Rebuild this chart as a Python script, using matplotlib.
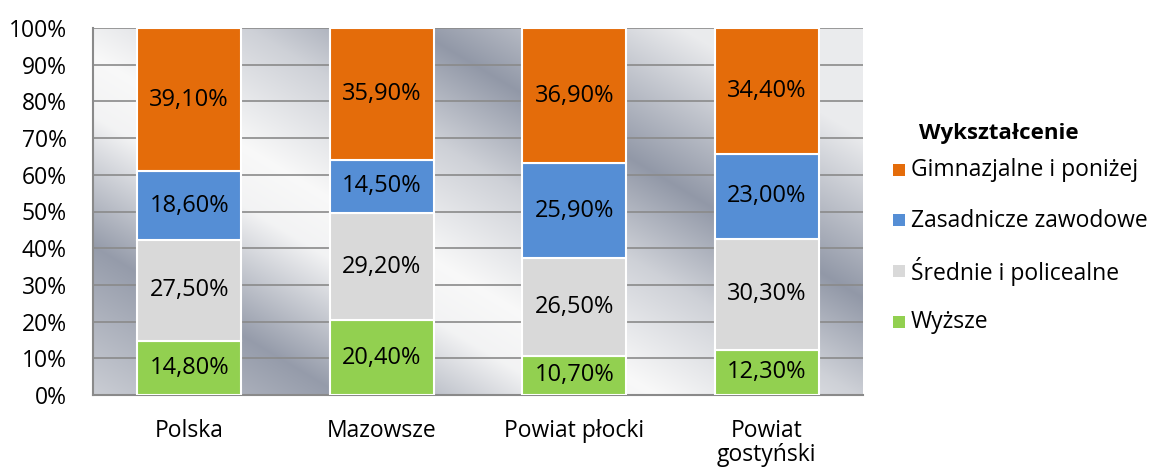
import numpy as np
import matplotlib
matplotlib.use("Agg")
import matplotlib.pyplot as plt
from matplotlib.patches import Rectangle

plt.rcParams['font.family'] = ['Open Sans', 'DejaVu Sans']

categories = ["Polska", "Mazowsze", "Powiat płocki", "Powiat\ngostyński"]
series_names = ["Wyższe", "Średnie i policealne", "Zasadnicze zawodowe", "Gimnazjalne i poniżej"]
wyzsze = [14.8, 20.4, 10.7, 12.3]
srednie = [27.5, 29.2, 26.5, 30.3]
zasadnicze = [18.6, 14.5, 25.9, 23.0]
gimnazjalne = [39.1, 35.9, 36.9, 34.4]
series_values = [wyzsze, srednie, zasadnicze, gimnazjalne]
colors = ["#92d050", "#d9d9d9", "#558ed5", "#e46c0a"]
legend_title = "Wykształcenie"
yticks = [0, 10, 20, 30, 40, 50, 60, 70, 80, 90, 100]

W, H = 1155, 470
fig = plt.figure(figsize=(W / 100, H / 100), dpi=100)
L, R, T, B = 93, 863, 28, 395
ax = fig.add_axes([L / W, 1 - B / H, (R - L) / W, (B - T) / H])

# metallic background gradient
nx, ny = R - L, B - T
px = np.arange(nx)[None, :] + L
py = np.arange(ny)[:, None] + T
u = py - 0.6 * px
ku = [-500, -380, -220, -120, 0, 60, 190, 350]
kt = [0.88, 0.88, 0.15, 0.65, 1.0, 0.95, 0.18, 0.65]
t = np.interp(u, ku, kt)
dark = np.array([0.50, 0.53, 0.60])
light = np.array([0.975, 0.975, 0.975])
img = dark[None, None, :] + t[..., None] * (light - dark)[None, None, :]
ax.imshow(img, extent=(-0.5, 3.5, 0, 100), origin='upper', aspect='auto', zorder=0)

ax.set_xlim(-0.5, 3.5)
ax.set_ylim(0, 100)
for y in yticks[1:]:
    ax.axhline(y, color="#8a8a8a", lw=1.2, zorder=1)

x = np.arange(len(categories))
bottom = np.zeros(len(categories))
for vals, col in zip(series_values, colors):
    vals = np.array(vals)
    ax.bar(x, vals, 0.54, bottom=bottom, color=col, edgecolor="white", linewidth=1.5, zorder=3)
    for xi, b, v in zip(x, bottom, vals):
        ax.text(xi, b + v / 2, f"{v:.2f}".replace('.', ',') + "%", ha='center', va='center',
                fontsize=17, color="black", zorder=4)
    bottom = bottom + vals

ax.set_yticks(yticks)
ax.set_yticklabels([f"{v}%" for v in yticks], fontsize=16.5)
ax.set_xticks(x)
ax.set_xticklabels(categories, fontsize=16.5, linespacing=1.02)
ax.tick_params(axis='y', length=0, pad=19)
ax.tick_params(axis='x', length=0, pad=17)
for s in ["top", "right"]:
    ax.spines[s].set_visible(False)
for s in ["left", "bottom"]:
    ax.spines[s].set_color("#8a8a8a")
    ax.spines[s].set_linewidth(1.5)

# legend
fig.text(919 / W, 1 - 133 / H, legend_title, fontsize=16, fontweight='bold', va='center', ha='left')
leg_order = [3, 2, 1, 0]
for i, si in enumerate(leg_order):
    yc = 170 + i * 50.5
    fig.patches.append(Rectangle((893 / W, 1 - (yc + 6) / H), 12 / W, 12 / H,
                                 transform=fig.transFigure, facecolor=colors[si], edgecolor='none'))
    fig.text(911 / W, 1 - yc / H, series_names[si], fontsize=16.5, va='center', ha='left')

fig.savefig("out.png", dpi=100)
